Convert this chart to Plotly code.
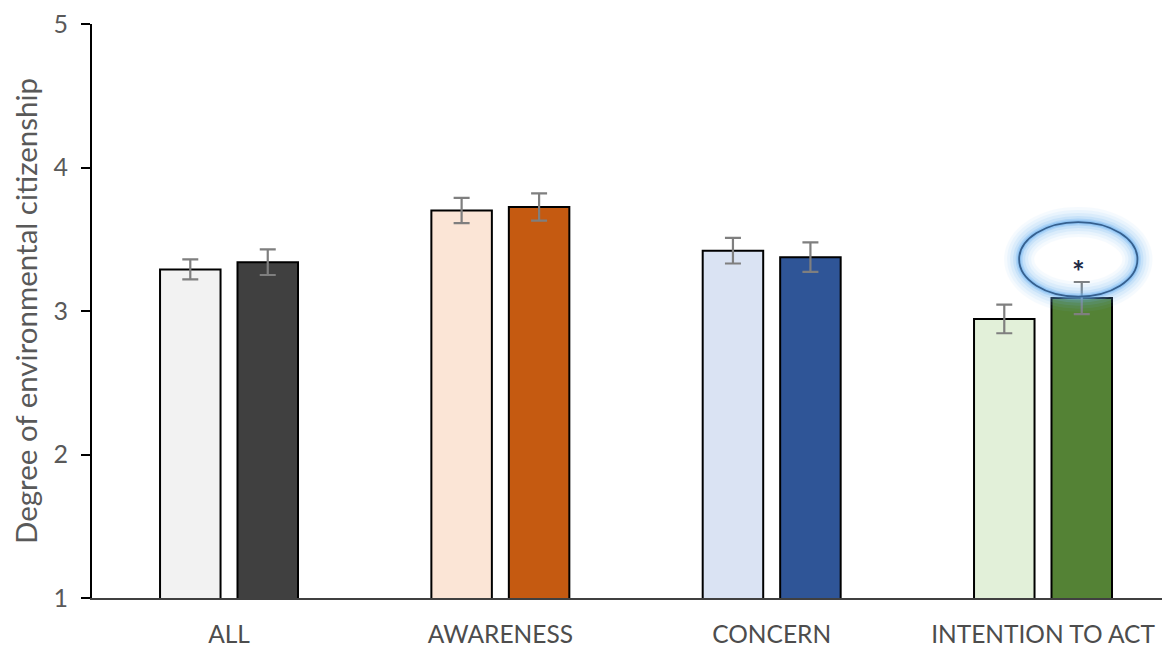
import plotly.graph_objects as go

categories = ["ALL", "AWARENESS", "CONCERN", "INTENTION TO ACT"]
light_values = [3.29, 3.70, 3.42, 2.945]
light_errors = [0.07, 0.088, 0.089, 0.10]
dark_values = [3.34, 3.725, 3.375, 3.09]
dark_errors = [0.089, 0.095, 0.103, 0.112]
light_colors = ["#f2f2f2", "#fbe5d6", "#dae3f3", "#e2f0d9"]
dark_colors = ["#404040", "#c55a11", "#2f5597", "#548235"]
y_ticks = [1, 2, 3, 4, 5]
y_title = "Degree of environmental citizenship"

font_family = "Lato, Open Sans, sans-serif"

fig = go.Figure()
fig.add_trace(go.Bar(
    x=categories, y=light_values,
    marker=dict(color=light_colors, line=dict(color="#000000", width=2)),
    error_y=dict(type="data", array=light_errors, color="#7f7f7f", thickness=2.2, width=8),
    showlegend=False,
))
fig.add_trace(go.Bar(
    x=categories, y=dark_values,
    marker=dict(color=dark_colors, line=dict(color="#000000", width=2)),
    error_y=dict(type="data", array=dark_errors, color="#7f7f7f", thickness=2.2, width=8),
    showlegend=False,
))

# significance ellipse with glow around the INTENTION TO ACT dark bar
cx = 3 + 0.13
cy = dark_values[3] + 0.27
rx, ry = 0.218, 0.26
for w, op in [(30, 0.06), (24, 0.08), (18, 0.11), (12, 0.17), (7, 0.28), (4, 0.4)]:
    fig.add_shape(type="circle", xref="x", yref="y",
                  x0=cx - rx, x1=cx + rx, y0=cy - ry, y1=cy + ry,
                  line=dict(color="#6db3f2", width=w), opacity=op, layer="above")
fig.add_shape(type="circle", xref="x", yref="y",
              x0=cx - rx, x1=cx + rx, y0=cy - ry, y1=cy + ry,
              line=dict(color="#35608f", width=1.8), layer="above")
fig.add_annotation(x=cx, y=dark_values[3] + 0.19, xref="x", yref="y", text="<b>*</b>",
                   showarrow=False, font=dict(size=30, color="#1f2a44", family=font_family))

fig.update_layout(
    width=1162, height=641,
    margin=dict(l=84, r=0, t=12, b=51),
    paper_bgcolor="white", plot_bgcolor="white",
    barmode="group", bargap=0.429, bargroupgap=0.219,
    font=dict(family=font_family, color="#595959"),
)
fig.update_xaxes(
    range=[-0.505, 3.468],
    showline=True, linecolor="#404040", linewidth=2,
    ticks="outside", ticklen=14, tickcolor="rgba(0,0,0,0)",
    tickfont=dict(size=24.5, color="#4d4d4d", family=font_family),
    showgrid=False,
)
fig.update_yaxes(
    range=[1, 5], tickvals=y_ticks, showgrid=False, zeroline=False,
    showline=True, linecolor="#000000", linewidth=2,
    ticks="outside", ticklen=9, tickwidth=2, tickcolor="#000000",
    ticklabeloverflow="allow", ticklabelstandoff=8,
    tickfont=dict(size=25, color="#595959", family=font_family),
    title=dict(text=y_title, font=dict(size=29.5, color="#595959", family=font_family), standoff=10),
)
fig.write_html("out.html")
